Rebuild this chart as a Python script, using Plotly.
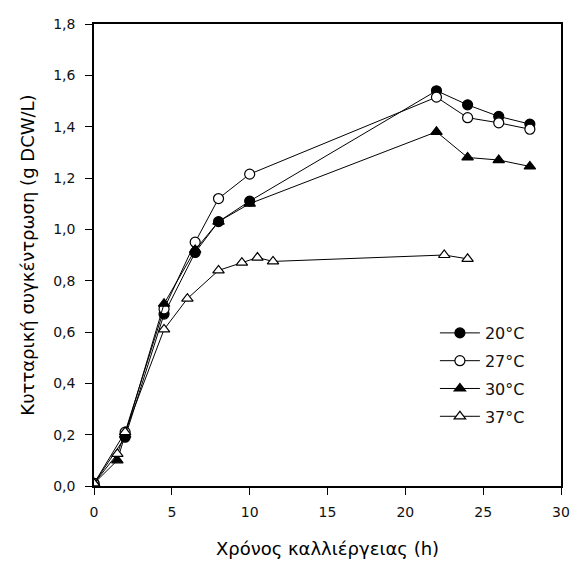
import plotly.graph_objects as go

# time (h) and cell concentration (g DCW/L) per temperature
t_20 = [0, 2, 4.5, 6.5, 8, 10, 22, 24, 26, 28]
y_20 = [0.01, 0.19, 0.67, 0.91, 1.03, 1.11, 1.54, 1.485, 1.44, 1.41]

t_27 = [0, 2, 4.5, 6.5, 8, 10, 22, 24, 26, 28]
y_27 = [0.01, 0.21, 0.69, 0.95, 1.12, 1.215, 1.515, 1.435, 1.415, 1.39]

t_30 = [0, 1.5, 2, 4.5, 6.5, 8, 10, 22, 24, 26, 28]
y_30 = [0.01, 0.10, 0.20, 0.71, 0.92, 1.03, 1.10, 1.38, 1.28, 1.27, 1.245]

t_37 = [0, 1.5, 2, 4.5, 6, 8, 9.5, 10.5, 11.5, 22.5, 24]
y_37 = [0.01, 0.125, 0.21, 0.61, 0.73, 0.84, 0.87, 0.89, 0.875, 0.90, 0.885]

series = [
    ("20\u00b0C", t_20, y_20, "circle", "black"),
    ("27\u00b0C", t_27, y_27, "circle", "white"),
    ("30\u00b0C", t_30, y_30, "triangle-up", "black"),
    ("37\u00b0C", t_37, y_37, "triangle-up", "white"),
]

FONT = "DejaVu Sans, Liberation Sans, Arial"

fig = go.Figure()
for name, t, y, sym, fill in series:
    fig.add_trace(go.Scatter(
        x=t, y=y, name=name, mode="lines+markers", legendgroup=name,
        line=dict(color="black", width=1),
        marker=dict(symbol=sym, size=10, color=fill,
                    line=dict(color="black", width=1.2)),
    ))

axis_common = dict(
    showline=True, linecolor="black", linewidth=1.5, mirror=True,
    ticks="outside", ticklen=7, tickcolor="black", tickwidth=1.2,
    showgrid=False, zeroline=False,
    tickfont=dict(family=FONT, size=14, color="#111"),
)

# page body adds ~8px, so the figure is a bit smaller than the window
fig.update_layout(
    width=570, height=556,
    margin=dict(l=86, r=10, t=8, b=78),
    paper_bgcolor="white", plot_bgcolor="white",
    separators=",.",
    font=dict(family=FONT, color="black"),
    xaxis=dict(range=[0, 30], tickvals=[0, 5, 10, 15, 20, 25, 30],
               ticklabelstandoff=5,
               title=dict(text="Χρόνος καλλιέργειας (h)", font=dict(size=18), standoff=24),
               **axis_common),
    yaxis=dict(range=[0, 1.8], dtick=0.2, tickformat=".1f",
               ticklabelstandoff=7,
               title=dict(text="Κυτταρική συγκέντρωση (g DCW/L)", font=dict(size=18), standoff=14),
               **axis_common),
    legend=dict(x=0.73, y=0.368, xanchor="left", yanchor="top",
                bgcolor="rgba(0,0,0,0)", font=dict(size=16, color="#111"),
                traceorder="grouped", tracegroupgap=4, itemwidth=40),
)

fig.write_html("out.html")
